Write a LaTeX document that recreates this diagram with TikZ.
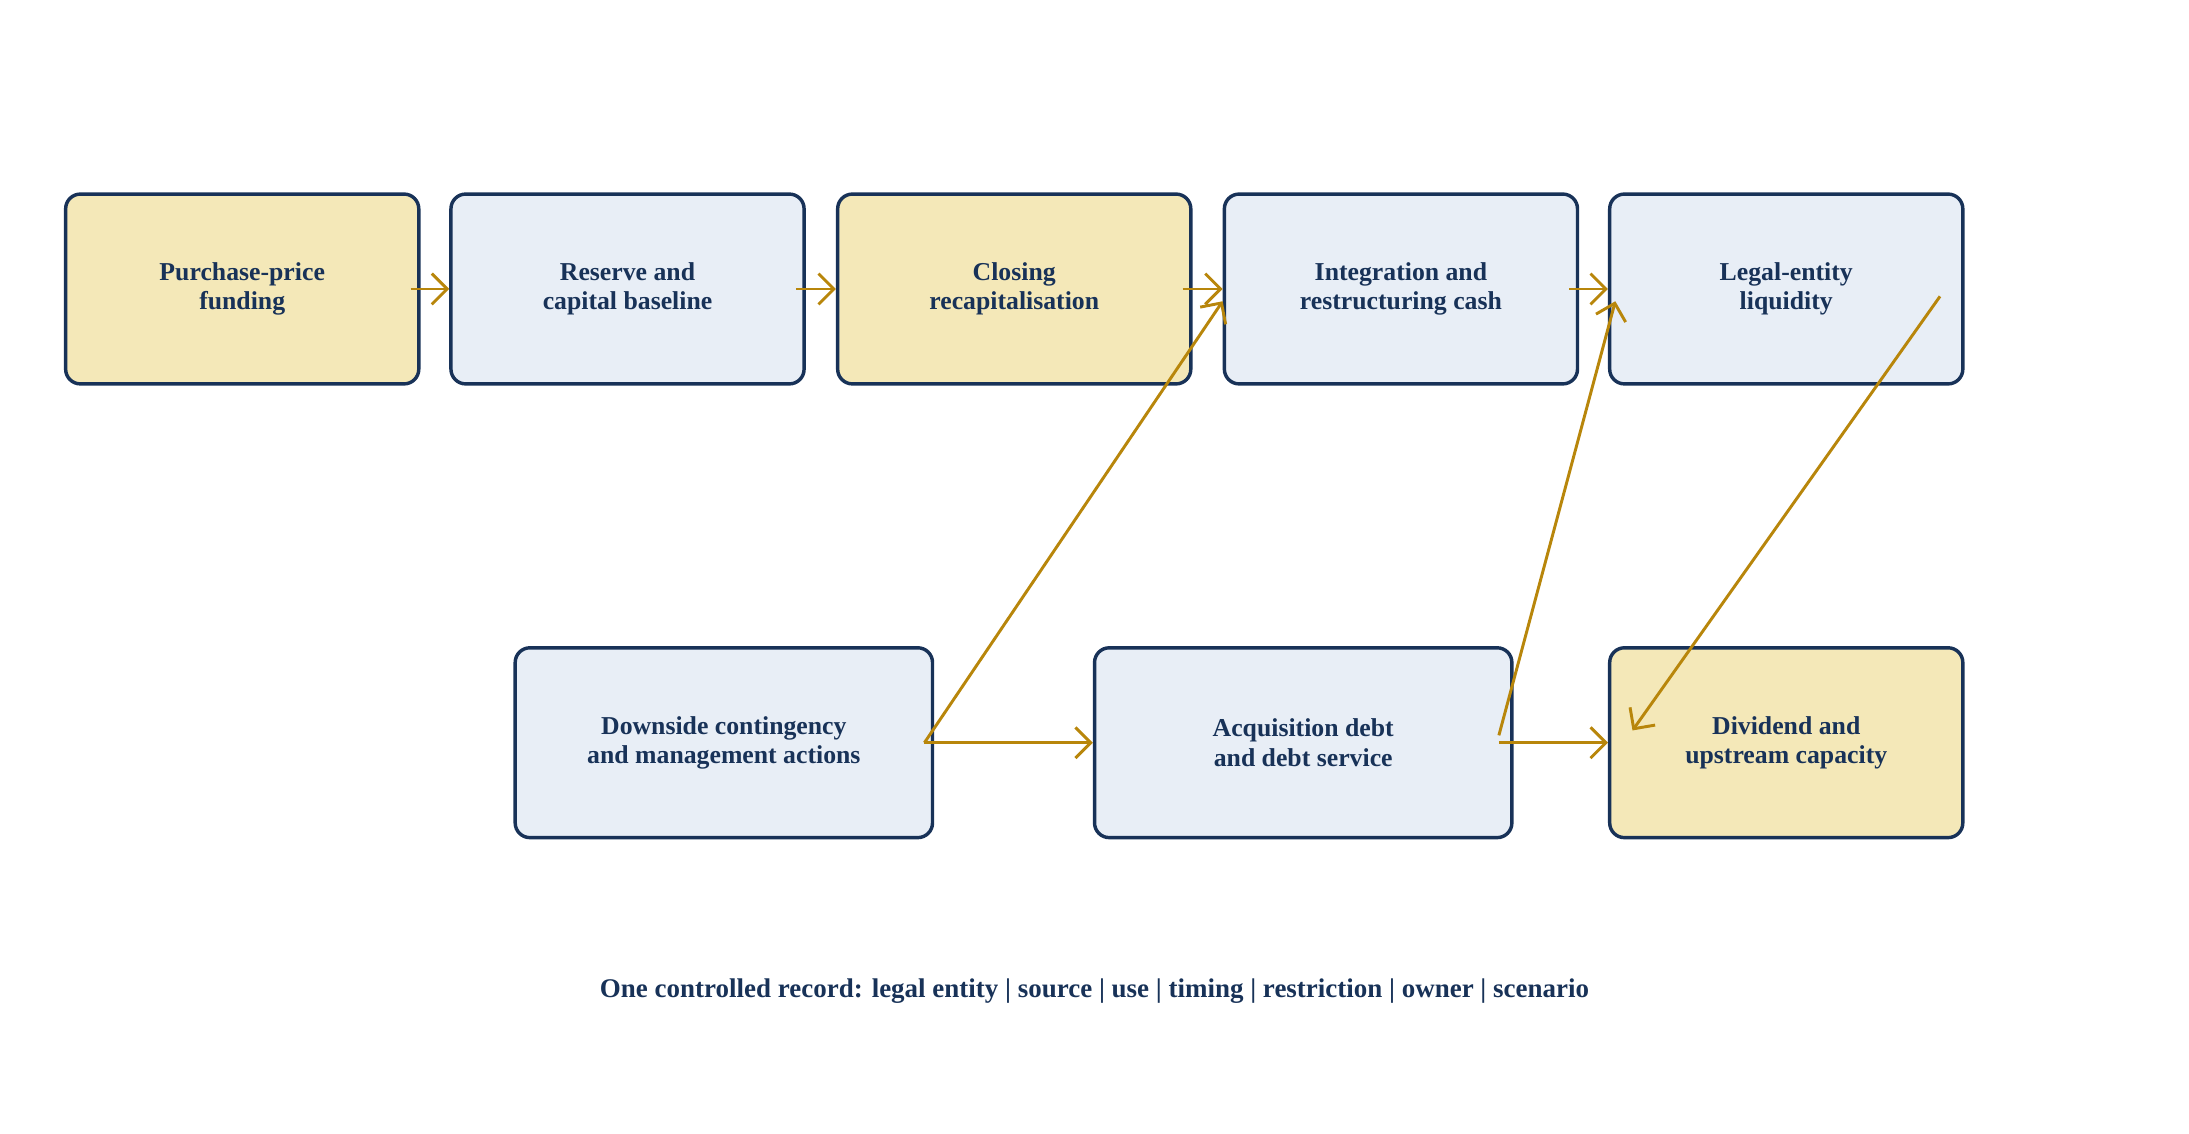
\documentclass[tikz,border=0pt]{standalone}
\usepackage{fontspec}
\setmainfont{Liberation Serif}
\usetikzlibrary{arrows.meta, positioning}
\definecolor{recordNavy}{RGB}{24,50,88}
\definecolor{fundGold}{RGB}{244,232,184}
\definecolor{flowBlue}{RGB}{232,238,246}
\definecolor{linkGold}{RGB}{184,134,11}

\begin{document}
\begin{tikzpicture}[
    x=0.02cm, y=-0.02cm,
    module/.style={rectangle, rounded corners=6pt, minimum width=5.06cm, minimum height=2.72cm, align=center, draw=recordNavy, line width=1.4pt, text=recordNavy, font=\fontsize{10.5}{12}\selectfont\bfseries},
    wide/.style={module, minimum width=5.98cm},
    arrow/.style={-{Straight Barb[length=2.2mm]}, linkGold, line width=1.2pt}
]
\useasboundingbox (0,0) rectangle (1568,812);

% Top row
\node[module, fill=fundGold] (purchase) at (173.5,207) {Purchase-price\\funding};
\node[module, fill=flowBlue] (reserve) at (449.5,207) {Reserve and\\capital baseline};
\node[module, fill=fundGold] (closing) at (726.5,207) {Closing\\recapitalisation};
\node[module, fill=flowBlue] (integration) at (1003.5,207) {Integration and\\restructuring cash};
\node[module, fill=flowBlue] (legal) at (1279.5,207) {Legal-entity\\liquidity};

% Bottom row
\node[wide, fill=flowBlue] (downside) at (518.5,532) {Downside contingency\\and management actions};
\node[wide, fill=flowBlue] (acquisition) at (933.5,532) {Acquisition debt\\and debt service};
\node[module, fill=fundGold] (dividend) at (1279.5,532) {Dividend and\\upstream capacity};

% Caption
\node[text=recordNavy, font=\fontsize{11}{13}\selectfont\bfseries] (record) at (784,710) {One controlled record: legal entity | source | use | timing | restriction | owner | scenario};

% Arrows
\draw[arrow] ([xshift=-4pt]purchase.east) -- (reserve.west);
\draw[arrow] ([xshift=-4pt]reserve.east) -- (closing.west);
\draw[arrow] ([xshift=-4pt]closing.east) -- (integration.west);
\draw[arrow] ([xshift=-4pt]integration.east) -- (legal.west);
\draw[arrow] ([xshift=-4pt]downside.east) -- ([yshift=-5pt]integration.west);
\draw[arrow] ([xshift=-4pt]downside.east) -- (acquisition.west);
\draw[arrow] ([xshift=-6pt,yshift=3pt]acquisition.east) -- ([xshift=3pt,yshift=-5pt]legal.west);
\draw[arrow] ([xshift=-6pt]acquisition.east) -- (dividend.west);
\draw[arrow] ([xshift=-10pt,yshift=-3pt]legal.east) -- ([xshift=10pt,yshift=5pt]dividend.west);

\end{tikzpicture}
\end{document}
